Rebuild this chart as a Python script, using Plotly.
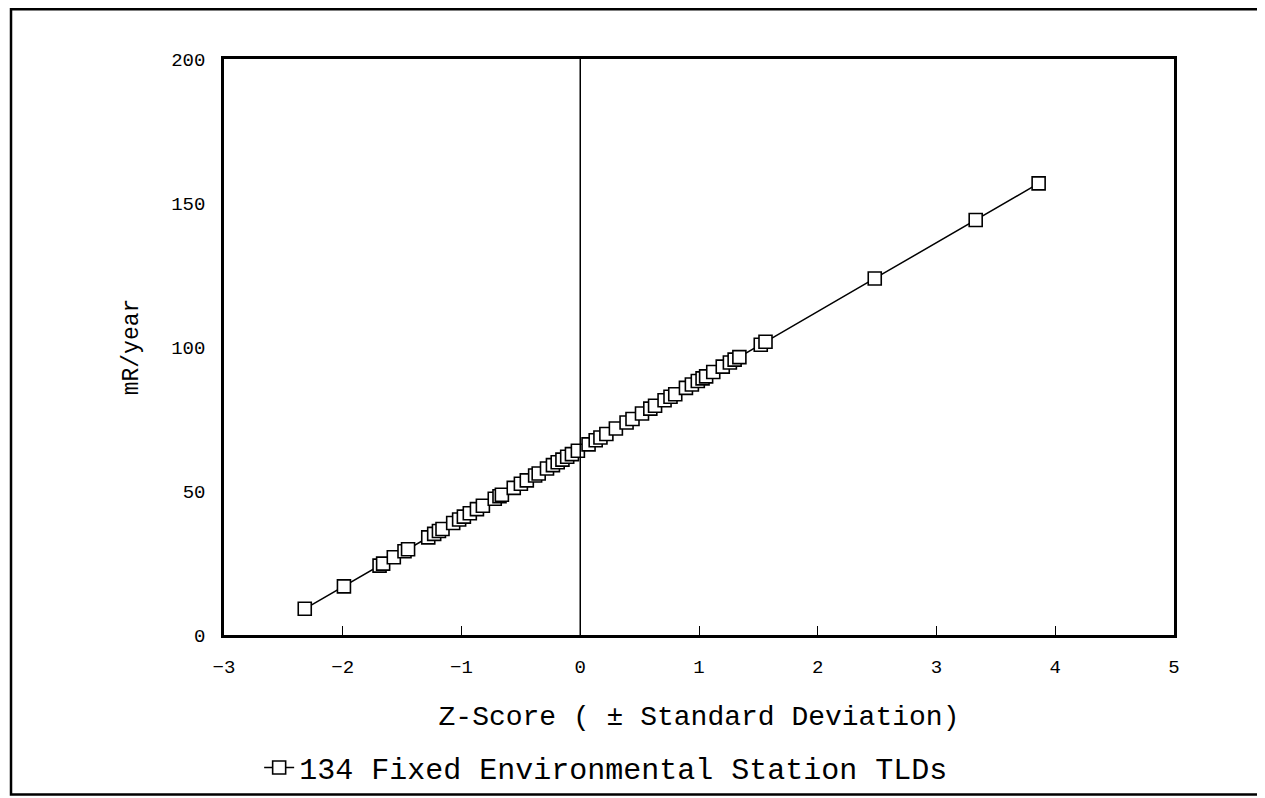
import plotly.graph_objects as go

# z-scores (standard deviations from the mean)
z_score = [-2.32, -1.99, -1.69, -1.66, -1.57, -1.48, -1.45, -1.28, -1.23, -1.19,
           -1.16, -1.07, -1.02, -0.98, -0.93, -0.87, -0.82, -0.72, -0.68, -0.66,
           -0.56, -0.50, -0.45, -0.38, -0.35, -0.28, -0.23, -0.19, -0.15, -0.11,
           -0.07, -0.02, 0.07, 0.13, 0.17, 0.22, 0.30, 0.39, 0.44, 0.52,
           0.59, 0.63, 0.71, 0.76, 0.80, 0.89, 0.94, 0.99, 1.03, 1.06,
           1.12, 1.20, 1.26, 1.30, 1.34, 1.52, 1.56, 2.48, 3.33, 3.86]

# exposure, mR/year
mr_year = [9.1, 16.9, 24.1, 24.8, 27.0, 29.1, 29.8, 33.9, 35.1, 36.1,
           36.8, 38.9, 40.1, 41.1, 42.3, 43.7, 44.9, 47.3, 48.2, 48.7,
           51.1, 52.5, 53.7, 55.4, 56.1, 57.8, 59.0, 60.0, 60.9, 61.9,
           62.8, 64.0, 66.2, 67.6, 68.6, 69.8, 71.7, 73.8, 75.0, 76.9,
           78.6, 79.6, 81.5, 82.7, 83.6, 85.8, 87.0, 88.2, 89.1, 89.8,
           91.3, 93.2, 94.6, 95.6, 96.5, 100.8, 101.8, 123.8, 144.1, 156.8]

series_name = '134 Fixed Environmental Station TLDs'
x_ticks = [-3, -2, -1, 0, 1, 2, 3, 4, 5]
y_ticks = [0, 50, 100, 150, 200]

FONT = 'Liberation Mono, DejaVu Sans Mono, monospace'

trace = go.Scatter(x=z_score, y=mr_year, mode='lines+markers', name=series_name,
                   line=dict(color='black', width=1.5),
                   marker=dict(symbol='square', size=13, color='white',
                               line=dict(color='black', width=1.6)))

# the page body shifts the figure a few px, margins are trimmed to compensate
layout = go.Layout(
    width=1265, height=798,
    margin=dict(l=216, r=99, t=51, b=169),
    paper_bgcolor='white', plot_bgcolor='white',
    font=dict(family=FONT, color='black', size=18),
    xaxis=dict(range=[-3, 5], tickvals=x_ticks, ticks='inside', ticklen=9,
               tickwidth=1, tickcolor='black', showgrid=False, zeroline=False,
               showline=True, linecolor='black', linewidth=2.5, mirror=True,
               tickfont=dict(size=19), ticklabelstandoff=12,
               title=dict(text='Z-Score ( ± Standard Deviation)',
                          font=dict(size=28), standoff=28)),
    yaxis=dict(range=[0, 200], tickvals=y_ticks, ticks='', showgrid=False,
               zeroline=False, showline=True, linecolor='black', linewidth=2.5,
               mirror=True, tickfont=dict(size=19), ticklabelstandoff=12,
               title=dict(text='mR/year', font=dict(size=23), standoff=27)),
    showlegend=True,
    legend=dict(orientation='h', x=0.037, y=-0.23, xanchor='left',
                yanchor='middle', font=dict(size=30), bgcolor='rgba(0,0,0,0)'),
    shapes=[
        # vertical reference line at z = 0
        dict(type='line', xref='x', yref='y', x0=0, x1=0, y0=0, y1=200,
             line=dict(color='black', width=1.5)),
        # outer frame around the whole figure
        dict(type='rect', xref='paper', yref='paper',
             x0=-0.2242, x1=1.0947, y0=-0.2768, y1=1.0865,
             line=dict(color='black', width=2.5)),
    ],
)

fig = go.Figure(data=[trace], layout=layout)
fig.write_html('out.html')
